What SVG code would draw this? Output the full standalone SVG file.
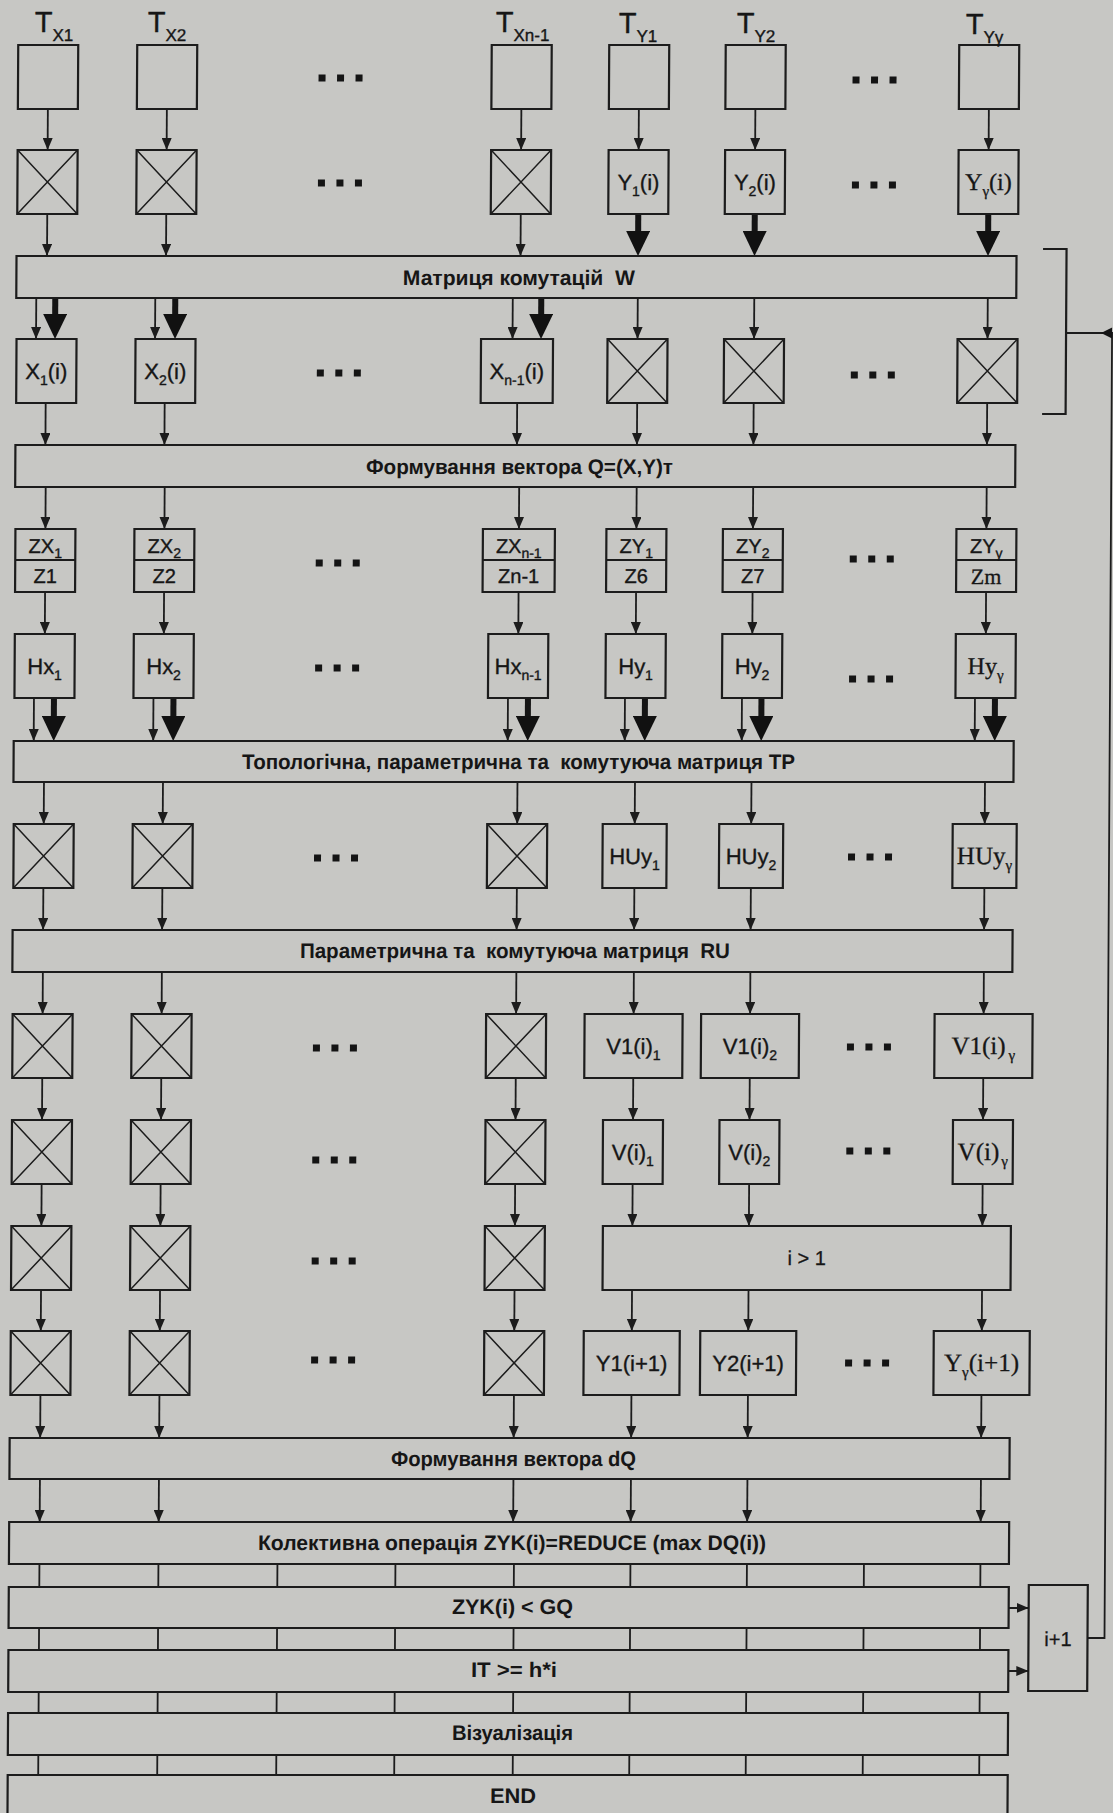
<svg xmlns="http://www.w3.org/2000/svg" width="1113" height="1813" viewBox="0 0 1113 1813">
<defs>
<style>
.bx{fill:none;stroke:#1c1c1c;stroke-width:2.2}
.dg{fill:none;stroke:#1c1c1c;stroke-width:1.5}
.c{fill:none;stroke:#1c1c1c;stroke-width:1.8}
.ca{fill:none;stroke:#1c1c1c;stroke-width:1.8;marker-end:url(#ah)}
.cb{fill:none;stroke:#141414;stroke-width:6;marker-end:url(#bh)}
.t{font-family:'Liberation Sans',Arial,sans-serif;font-size:22px;fill:#161616;stroke:#161616;stroke-width:0.35;text-anchor:middle}
.tz{font-family:'Liberation Sans',Arial,sans-serif;font-size:20px;fill:#161616;stroke:#161616;stroke-width:0.35;text-anchor:middle}
.ts{font-family:'Liberation Serif','Times New Roman',serif;font-size:24px;fill:#161616;stroke:#161616;stroke-width:0.3;text-anchor:middle}
.tl{font-family:'Liberation Sans',Arial,sans-serif;font-size:29px;fill:#161616;stroke:#161616;stroke-width:0.35}
.lb{font-family:'Liberation Sans',Arial,sans-serif;font-size:21px;font-weight:bold;fill:#161616}
.ln{font-family:'Liberation Sans',Arial,sans-serif;font-size:20px;fill:#161616;stroke:#161616;stroke-width:0.3;text-anchor:middle}
.s{font-size:14px}
.s2{font-size:15px}
.s3{font-size:17px}
.d{fill:#141414}
</style>
<marker id="ah" viewBox="0 0 12 10" refX="12" refY="5" markerWidth="12" markerHeight="10" markerUnits="userSpaceOnUse" orient="auto"><path d="M0,0L12,5L0,10z" fill="#1c1c1c"/></marker>
<marker id="bh" viewBox="0 0 25 24" refX="3" refY="12" markerWidth="25" markerHeight="24" markerUnits="userSpaceOnUse" orient="auto"><path d="M0,0L25,12L0,24z" fill="#111"/></marker>
<g id="xb"><rect class="bx" width="60" height="64"/><path class="dg" d="M0 0L60 64M60 0L0 64"/></g>
</defs>
<rect width="1113" height="1813" fill="#c7c7c4"/>
<g transform="matrix(1 0 -0.0058 1 0 0)">
<g id="connectors">
<path class="ca" d="M48.5 109V150"/><path class="ca" d="M167.5 109V150"/><path class="ca" d="M522 109V150"/><path class="ca" d="M639.5 109V150"/><path class="ca" d="M756 109V150"/><path class="ca" d="M989.5 109V150"/>
<path class="ca" d="M48.5 214V256"/><path class="ca" d="M167.5 214V256"/><path class="ca" d="M522 214V256"/>
<path class="cb" d="M639.5 214V234"/><path class="cb" d="M756 214V234"/><path class="cb" d="M989.5 214V234"/>
<path class="ca" d="M38 298V339"/><path class="ca" d="M157 298V339"/><path class="ca" d="M514.5 298V339"/><path class="ca" d="M639.5 298V339"/><path class="ca" d="M756 298V339"/><path class="ca" d="M989.5 298V339"/>
<path class="cb" d="M57 298V317"/><path class="cb" d="M177 298V317"/><path class="cb" d="M543 298V317"/>
<path class="ca" d="M48 403V445"/><path class="ca" d="M167 403V445"/><path class="ca" d="M519.5 403V445"/><path class="ca" d="M639.5 403V445"/><path class="ca" d="M756 403V445"/><path class="ca" d="M989.5 403V445"/>
<path class="ca" d="M48.5 487V529"/><path class="ca" d="M167.5 487V529"/><path class="ca" d="M522 487V529"/><path class="ca" d="M639.5 487V529"/><path class="ca" d="M756 487V529"/><path class="ca" d="M989.5 487V529"/>
<path class="ca" d="M48.5 592V634"/><path class="ca" d="M167.5 592V634"/><path class="ca" d="M522 592V634"/><path class="ca" d="M639.5 592V634"/><path class="ca" d="M756 592V634"/><path class="ca" d="M989.5 592V634"/>
<path class="ca" d="M38 698V741"/><path class="ca" d="M157.5 698V741"/><path class="ca" d="M512 698V741"/><path class="ca" d="M629 698V741"/><path class="ca" d="M746 698V741"/><path class="ca" d="M979 698V741"/>
<path class="cb" d="M58 698V719"/><path class="cb" d="M177.5 698V719"/><path class="cb" d="M532 698V719"/><path class="cb" d="M649 698V719"/><path class="cb" d="M765.5 698V719"/><path class="cb" d="M999 698V719"/>
<path class="ca" d="M48.5 782V824"/><path class="ca" d="M167.5 782V824"/><path class="ca" d="M522 782V824"/><path class="ca" d="M639.5 782V824"/><path class="ca" d="M756 782V824"/><path class="ca" d="M989.5 782V824"/>
<path class="ca" d="M48.5 888V930"/><path class="ca" d="M167.5 888V930"/><path class="ca" d="M522 888V930"/><path class="ca" d="M639.5 888V930"/><path class="ca" d="M756 888V930"/><path class="ca" d="M989.5 888V930"/>
<path class="ca" d="M48.5 972V1014"/><path class="ca" d="M167.5 972V1014"/><path class="ca" d="M522 972V1014"/><path class="ca" d="M639.5 972V1014"/><path class="ca" d="M756 972V1014"/><path class="ca" d="M989.5 972V1014"/>
<path class="ca" d="M48.5 1078V1120"/><path class="ca" d="M167.5 1078V1120"/><path class="ca" d="M522 1078V1120"/><path class="ca" d="M639.5 1078V1120"/><path class="ca" d="M756 1078V1120"/><path class="ca" d="M989.5 1078V1120"/>
<path class="ca" d="M48.5 1184V1226"/><path class="ca" d="M167.5 1184V1226"/><path class="ca" d="M522 1184V1226"/><path class="ca" d="M639.5 1184V1226"/><path class="ca" d="M756 1184V1226"/><path class="ca" d="M989.5 1184V1226"/>
<path class="ca" d="M48.5 1290V1331"/><path class="ca" d="M167.5 1290V1331"/><path class="ca" d="M522 1290V1331"/><path class="ca" d="M639.5 1290V1331"/><path class="ca" d="M756 1290V1331"/><path class="ca" d="M989.5 1290V1331"/>
<path class="ca" d="M48.5 1395V1438"/><path class="ca" d="M167.5 1395V1438"/><path class="ca" d="M522 1395V1438"/><path class="ca" d="M639.5 1395V1438"/><path class="ca" d="M756 1395V1438"/><path class="ca" d="M989.5 1395V1438"/>
<path class="ca" d="M48.5 1479V1522"/><path class="ca" d="M167.5 1479V1522"/><path class="ca" d="M522 1479V1522"/><path class="ca" d="M639.5 1479V1522"/><path class="ca" d="M756 1479V1522"/><path class="ca" d="M989.5 1479V1522"/>
<path class="c" d="M48.5 1564V1587M167.5 1564V1587M286.5 1564V1587M404.5 1564V1587M523 1564V1587M639.5 1564V1587M756 1564V1587M873 1564V1587M989.5 1564V1587M48.5 1628V1650M167.5 1628V1650M286.5 1628V1650M404.5 1628V1650M523 1628V1650M639.5 1628V1650M756 1628V1650M873 1628V1650M989.5 1628V1650M48.5 1692V1713M167.5 1692V1713M286.5 1692V1713M404.5 1692V1713M523 1692V1713M639.5 1692V1713M756 1692V1713M873 1692V1713M989.5 1692V1713M48.5 1755V1775M167.5 1755V1775M286.5 1755V1775M404.5 1755V1775M523 1755V1775M639.5 1755V1775M756 1755V1775M873 1755V1775M989.5 1755V1775"/>
<path class="ca" d="M1018 1608H1038"/><path class="ca" d="M1018 1671H1038"/>
<path class="c" d="M1097 1638H1114V333H1068"/>
<polygon points="1103,333 1114,327.5 1114,338.5" fill="#141414"/>
<path class="c" d="M1044.5 249H1068V414H1044.5" style="stroke-width:2.2"/>
</g>
<g id="tx1"><rect class="bx" x="18.5" y="45" width="60" height="64"/><text class="tl" x="35" y="32">T<tspan class="s3" dy="9">X1</tspan></text></g>
<g id="tx2"><rect class="bx" x="137.5" y="45" width="60" height="64"/><text class="tl" x="148" y="32">T<tspan class="s3" dy="9">X2</tspan></text></g>
<g id="txn"><rect class="bx" x="492" y="45" width="60" height="64"/><text class="tl" x="496" y="32">T<tspan class="s3" dy="9">Xn-1</tspan></text></g>
<g id="ty1"><rect class="bx" x="609.5" y="45" width="60" height="64"/><text class="tl" x="619" y="33">T<tspan class="s3" dy="9">Y1</tspan></text></g>
<g id="ty2"><rect class="bx" x="726" y="45" width="60" height="64"/><text class="tl" x="737" y="33">T<tspan class="s3" dy="9">Y2</tspan></text></g>
<g id="tyg"><rect class="bx" x="959.5" y="45" width="60" height="64"/><text class="tl" x="966" y="34">T<tspan class="s3" dy="9">Yγ</tspan></text></g>
<g id="sw1"><use href="#xb" x="18.5" y="150"/></g>
<g id="sw2"><use href="#xb" x="137.5" y="150"/></g>
<g id="sw3"><use href="#xb" x="492" y="150"/></g>
<g id="y1i"><rect class="bx" x="609.5" y="150" width="60" height="64"/><text class="t" x="639.5" y="190">Y<tspan class="s" dy="6">1</tspan><tspan dy="-6">(i)</tspan></text></g>
<g id="y2i"><rect class="bx" x="726" y="150" width="60" height="64"/><text class="t" x="756" y="190">Y<tspan class="s" dy="6">2</tspan><tspan dy="-6">(i)</tspan></text></g>
<g id="ygi"><rect class="bx" x="959.5" y="150" width="60" height="64"/><text class="ts" x="989.5" y="190">Y<tspan class="s2" dy="6">γ</tspan><tspan dy="-6">(i)</tspan></text></g>
<g id="barW"><rect class="bx" x="18" y="256" width="1000" height="42"/><text class="lb" x="404.5" y="285" textLength="232" lengthAdjust="spacingAndGlyphs">Матриця комутацій &#160;W</text></g>
<g id="x1i"><rect class="bx" x="18.5" y="339" width="60" height="64"/><text class="t" x="48.5" y="379">X<tspan class="s" dy="6">1</tspan><tspan dy="-6">(i)</tspan></text></g>
<g id="x2i"><rect class="bx" x="137.5" y="339" width="60" height="64"/><text class="t" x="167.5" y="379">X<tspan class="s" dy="6">2</tspan><tspan dy="-6">(i)</tspan></text></g>
<g id="xni"><rect class="bx" x="483" y="339" width="72" height="64"/><text class="t" x="519" y="379">X<tspan class="s" dy="6">n-1</tspan><tspan dy="-6">(i)</tspan></text></g>
<g id="sw4"><use href="#xb" x="609.5" y="339"/></g>
<g id="sw5"><use href="#xb" x="726" y="339"/></g>
<g id="sw6"><use href="#xb" x="959.5" y="339"/></g>
<g id="barQ"><rect class="bx" x="18" y="445" width="1000" height="42"/><text class="lb" x="368.7" y="474" textLength="307" lengthAdjust="spacingAndGlyphs">Формування вектора Q=(X,Y)т</text></g>
<g id="zx1"><rect class="bx" x="18.5" y="529" width="60" height="63"/><path class="bx" d="M18.5 560H78.5"/><text class="tz" x="48.5" y="553">ZX<tspan class="s" dy="5">1</tspan></text><text class="tz" x="48.5" y="583">Z1</text></g>
<g id="zx2"><rect class="bx" x="137.5" y="529" width="60" height="63"/><path class="bx" d="M137.5 560H197.5"/><text class="tz" x="167.5" y="553">ZX<tspan class="s" dy="5">2</tspan></text><text class="tz" x="167.5" y="583">Z2</text></g>
<g id="zxn"><rect class="bx" x="486" y="529" width="72" height="63"/><path class="bx" d="M486 560H558"/><text class="tz" x="522" y="553">ZX<tspan class="s" dy="5">n-1</tspan></text><text class="tz" x="522" y="583">Zn-1</text></g>
<g id="zy1"><rect class="bx" x="609.5" y="529" width="60" height="63"/><path class="bx" d="M609.5 560H669.5"/><text class="tz" x="639.5" y="553">ZY<tspan class="s" dy="5">1</tspan></text><text class="tz" x="639.5" y="583">Z6</text></g>
<g id="zy2"><rect class="bx" x="726" y="529" width="60" height="63"/><path class="bx" d="M726 560H786"/><text class="tz" x="756" y="553">ZY<tspan class="s" dy="5">2</tspan></text><text class="tz" x="756" y="583">Z7</text></g>
<g id="zyg"><rect class="bx" x="959.5" y="529" width="60" height="63"/><path class="bx" d="M959.5 560H1019.5"/><text class="tz" x="989.5" y="553">ZY<tspan class="s" dy="5">γ</tspan></text><text class="ts" x="989.5" y="584" style="font-size:22px">Zm</text></g>
<g id="hx1"><rect class="bx" x="18.5" y="634" width="60" height="64"/><text class="t" x="48.5" y="674">Hx<tspan class="s" dy="6">1</tspan></text></g>
<g id="hx2"><rect class="bx" x="137.5" y="634" width="60" height="64"/><text class="t" x="167.5" y="674">Hx<tspan class="s" dy="6">2</tspan></text></g>
<g id="hxn"><rect class="bx" x="492" y="634" width="60" height="64"/><text class="t" x="522" y="674">Hx<tspan class="s" dy="6">n-1</tspan></text></g>
<g id="hy1"><rect class="bx" x="609.5" y="634" width="60" height="64"/><text class="t" x="639.5" y="674">Hy<tspan class="s" dy="6">1</tspan></text></g>
<g id="hy2"><rect class="bx" x="726" y="634" width="60" height="64"/><text class="t" x="756" y="674">Hy<tspan class="s" dy="6">2</tspan></text></g>
<g id="hyg"><rect class="bx" x="959.5" y="634" width="60" height="64"/><text class="ts" x="989.5" y="674">Hy<tspan class="s2" dy="6">γ</tspan></text></g>
<g id="barTP"><rect class="bx" x="18" y="741" width="1000" height="41"/><text class="lb" x="246.4" y="769" textLength="553" lengthAdjust="spacingAndGlyphs">Топологічна, параметрична та &#160;комутуюча матриця TP</text></g>
<g id="sw7"><use href="#xb" x="18.5" y="824"/></g>
<g id="sw8"><use href="#xb" x="137.5" y="824"/></g>
<g id="sw9"><use href="#xb" x="492" y="824"/></g>
<g id="huy1"><rect class="bx" x="607.5" y="824" width="64" height="64"/><text class="t" x="639.5" y="864">HUy<tspan class="s" dy="6">1</tspan></text></g>
<g id="huy2"><rect class="bx" x="724" y="824" width="64" height="64"/><text class="t" x="756" y="864">HUy<tspan class="s" dy="6">2</tspan></text></g>
<g id="huyg"><rect class="bx" x="957.5" y="824" width="64" height="64"/><text class="ts" x="989.5" y="864" style="font-size:25px">HUy<tspan class="s2" dy="6">γ</tspan></text></g>
<g id="barRU"><rect class="bx" x="18" y="930" width="1000" height="42"/><text class="lb" x="305.5" y="958" textLength="430" lengthAdjust="spacingAndGlyphs">Параметрична та &#160;комутуюча матриця &#160;RU</text></g>
<g id="sw10"><use href="#xb" x="18.5" y="1014"/></g>
<g id="sw11"><use href="#xb" x="137.5" y="1014"/></g>
<g id="sw12"><use href="#xb" x="492" y="1014"/></g>
<g id="v1i1"><rect class="bx" x="590.5" y="1014" width="98" height="64"/><text class="t" x="639.5" y="1054">V1(i)<tspan class="s" dy="6">1</tspan></text></g>
<g id="v1i2"><rect class="bx" x="707" y="1014" width="98" height="64"/><text class="t" x="756" y="1054">V1(i)<tspan class="s" dy="6">2</tspan></text></g>
<g id="v1ig"><rect class="bx" x="940.5" y="1014" width="98" height="64"/><text class="ts" x="989.5" y="1054" style="font-size:25px">V1(i)<tspan class="s2" dx="3" dy="6">γ</tspan></text></g>
<g id="sw13"><use href="#xb" x="18.5" y="1120"/></g>
<g id="sw14"><use href="#xb" x="137.5" y="1120"/></g>
<g id="sw15"><use href="#xb" x="492" y="1120"/></g>
<g id="vi1"><rect class="bx" x="609.5" y="1120" width="60" height="64"/><text class="t" x="639.5" y="1160">V(i)<tspan class="s" dy="6">1</tspan></text></g>
<g id="vi2"><rect class="bx" x="726" y="1120" width="60" height="64"/><text class="t" x="756" y="1160">V(i)<tspan class="s" dy="6">2</tspan></text></g>
<g id="vig"><rect class="bx" x="959.5" y="1120" width="60" height="64"/><text class="ts" x="989.5" y="1160" style="font-size:25px">V(i)<tspan class="s2" dx="2" dy="6">γ</tspan></text></g>
<g id="sw16"><use href="#xb" x="18.5" y="1226"/></g>
<g id="sw17"><use href="#xb" x="137.5" y="1226"/></g>
<g id="sw18"><use href="#xb" x="492" y="1226"/></g>
<g id="cond1"><rect class="bx" x="610" y="1226" width="408" height="64"/><text class="ln" x="814" y="1265">i &gt; 1</text></g>
<g id="sw19"><use href="#xb" x="18.5" y="1331"/></g>
<g id="sw20"><use href="#xb" x="137.5" y="1331"/></g>
<g id="sw21"><use href="#xb" x="492" y="1331"/></g>
<g id="y1n"><rect class="bx" x="591.5" y="1331" width="96" height="64"/><text class="t" x="639.5" y="1371">Y1(i+1)</text></g>
<g id="y2n"><rect class="bx" x="708" y="1331" width="96" height="64"/><text class="t" x="756" y="1371">Y2(i+1)</text></g>
<g id="ygn"><rect class="bx" x="941.5" y="1331" width="96" height="64"/><text class="ts" x="989.5" y="1371" style="font-size:25px">Y<tspan class="s2" dy="6">γ</tspan><tspan dy="-6">(i+1)</tspan></text></g>
<g id="barDQ"><rect class="bx" x="18" y="1438" width="1000" height="41"/><text class="lb" x="399.5" y="1466" textLength="245" lengthAdjust="spacingAndGlyphs">Формування вектора dQ</text></g>
<g id="barRED"><rect class="bx" x="18" y="1522" width="1000" height="42"/><text class="lb" x="267" y="1550" textLength="508" lengthAdjust="spacingAndGlyphs">Колективна операція ZYK(i)=REDUCE (max DQ(i))</text></g>
<g id="barZYK"><rect class="bx" x="18" y="1587" width="1000" height="41"/><text class="lb" x="461.3" y="1614" textLength="121" lengthAdjust="spacingAndGlyphs">ZYK(i) &lt; GQ</text></g>
<g id="barIT"><rect class="bx" x="18" y="1650" width="1000" height="42"/><text class="lb" x="480.7" y="1677" textLength="86" lengthAdjust="spacingAndGlyphs">IT &gt;= h*i</text></g>
<g id="barViz"><rect class="bx" x="18" y="1713" width="1000" height="42"/><text class="lb" x="462" y="1740" textLength="121" lengthAdjust="spacingAndGlyphs">Візуалізація</text></g>
<g id="barEND"><rect class="bx" x="18" y="1775" width="1000" height="42"/><text class="lb" x="500.4" y="1803" textLength="46" lengthAdjust="spacingAndGlyphs">END</text></g>
<g id="inc"><rect class="bx" x="1038" y="1585" width="59" height="106"/><text class="ln" x="1067.5" y="1646">i+1</text></g>
<g id="dots">
<rect class="d" x="319" y="74.5" width="7" height="7"/><rect class="d" x="337.5" y="74.5" width="7" height="7"/><rect class="d" x="356" y="74.5" width="7" height="7"/>
<rect class="d" x="853" y="76.5" width="7" height="7"/><rect class="d" x="871.5" y="76.5" width="7" height="7"/><rect class="d" x="890" y="76.5" width="7" height="7"/>
<rect class="d" x="319" y="179.5" width="7" height="7"/><rect class="d" x="337.5" y="179.5" width="7" height="7"/><rect class="d" x="356" y="179.5" width="7" height="7"/>
<rect class="d" x="853" y="181.5" width="7" height="7"/><rect class="d" x="871.5" y="181.5" width="7" height="7"/><rect class="d" x="890" y="181.5" width="7" height="7"/>
<rect class="d" x="319" y="369.5" width="7" height="7"/><rect class="d" x="337.5" y="369.5" width="7" height="7"/><rect class="d" x="356" y="369.5" width="7" height="7"/>
<rect class="d" x="853" y="371.5" width="7" height="7"/><rect class="d" x="871.5" y="371.5" width="7" height="7"/><rect class="d" x="890" y="371.5" width="7" height="7"/>
<rect class="d" x="319" y="559.5" width="7" height="7"/><rect class="d" x="337.5" y="559.5" width="7" height="7"/><rect class="d" x="356" y="559.5" width="7" height="7"/>
<rect class="d" x="853" y="555.5" width="7" height="7"/><rect class="d" x="871.5" y="555.5" width="7" height="7"/><rect class="d" x="890" y="555.5" width="7" height="7"/>
<rect class="d" x="319" y="664.5" width="7" height="7"/><rect class="d" x="337.5" y="664.5" width="7" height="7"/><rect class="d" x="356" y="664.5" width="7" height="7"/>
<rect class="d" x="853" y="675.5" width="7" height="7"/><rect class="d" x="871.5" y="675.5" width="7" height="7"/><rect class="d" x="890" y="675.5" width="7" height="7"/>
<rect class="d" x="319" y="854.5" width="7" height="7"/><rect class="d" x="337.5" y="854.5" width="7" height="7"/><rect class="d" x="356" y="854.5" width="7" height="7"/>
<rect class="d" x="853" y="853.5" width="7" height="7"/><rect class="d" x="871.5" y="853.5" width="7" height="7"/><rect class="d" x="890" y="853.5" width="7" height="7"/>
<rect class="d" x="319" y="1044.5" width="7" height="7"/><rect class="d" x="337.5" y="1044.5" width="7" height="7"/><rect class="d" x="356" y="1044.5" width="7" height="7"/>
<rect class="d" x="853" y="1043.5" width="7" height="7"/><rect class="d" x="871.5" y="1043.5" width="7" height="7"/><rect class="d" x="890" y="1043.5" width="7" height="7"/>
<rect class="d" x="319" y="1156.5" width="7" height="7"/><rect class="d" x="337.5" y="1156.5" width="7" height="7"/><rect class="d" x="356" y="1156.5" width="7" height="7"/>
<rect class="d" x="853" y="1147.5" width="7" height="7"/><rect class="d" x="871.5" y="1147.5" width="7" height="7"/><rect class="d" x="890" y="1147.5" width="7" height="7"/>
<rect class="d" x="319" y="1257.5" width="7" height="7"/><rect class="d" x="337.5" y="1257.5" width="7" height="7"/><rect class="d" x="356" y="1257.5" width="7" height="7"/>
<rect class="d" x="319" y="1356.5" width="7" height="7"/><rect class="d" x="337.5" y="1356.5" width="7" height="7"/><rect class="d" x="356" y="1356.5" width="7" height="7"/>
<rect class="d" x="853" y="1359.5" width="7" height="7"/><rect class="d" x="871.5" y="1359.5" width="7" height="7"/><rect class="d" x="890" y="1359.5" width="7" height="7"/>
</g>
</g>
</svg>
